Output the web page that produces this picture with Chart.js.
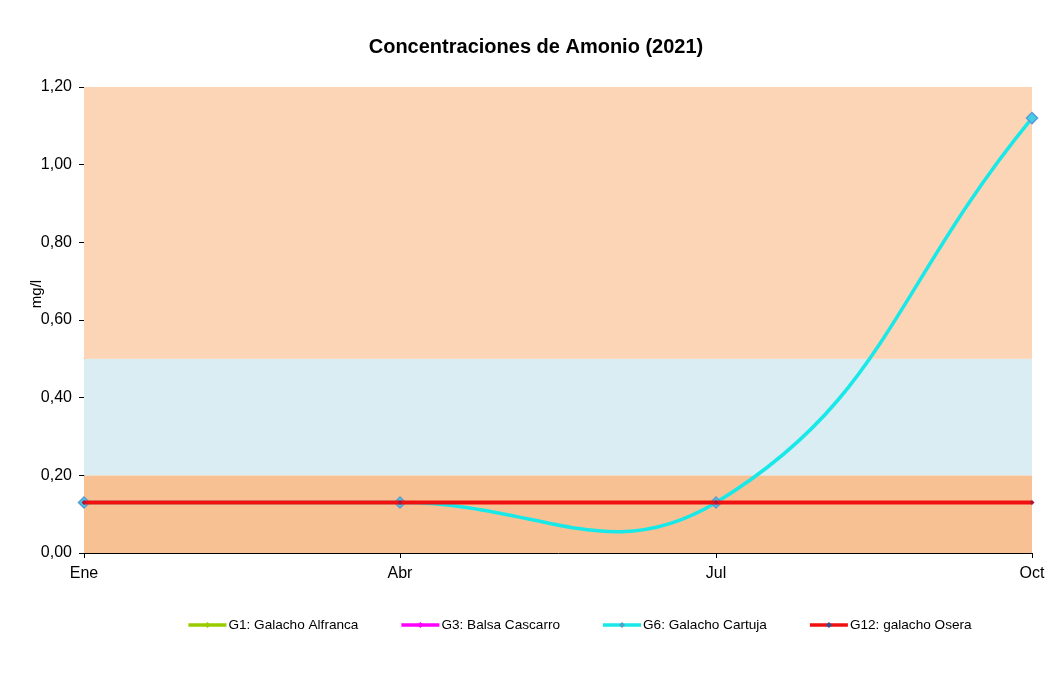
<!DOCTYPE html>
<html>
<head>
<meta charset="utf-8">
<script src="https://cdn.jsdelivr.net/npm/chart.js@4/dist/chart.umd.min.js"></script>
<style>
	body { margin: 0; background: #fff; }
	#wrap { width: 1061px; height: 677px; position: relative; }
</style>
</head>
<body>
<div id="wrap"><canvas id="chart"></canvas></div>
<script>
const months = ["Ene", "Abr", "Jul", "Oct"];
const g1 = [null, null, null, null];
const g3 = [null, null, null, null];
const g6 = [0.13, 0.13, 0.13, 1.12];
const g12 = [0.13, 0.13, 0.13, 0.13];
const yTicks = [0, 0.2, 0.4, 0.6, 0.8, 1.0, 1.2];
// quality bands (mg/l)
const bandEdges = [0, 0.2, 0.5, 1.2];
const bandColors = ["#F8C193", "#DAEDF2", "#FBD5B5"];

const FONT = "'Liberation Sans', Arial, sans-serif";

function fmt(v) {
	return v.toFixed(2).replace('.', ',');
}

const bands = {
	id: 'bands',
	beforeDatasetsDraw(chart) {
		const {ctx, chartArea, scales: {y}} = chart;
		ctx.save();
		for (let i = 0; i < bandColors.length; i++) {
			const top = y.getPixelForValue(bandEdges[i + 1]);
			const bottom = y.getPixelForValue(bandEdges[i]);
			ctx.fillStyle = bandColors[i];
			ctx.fillRect(chartArea.left, top, chartArea.right - chartArea.left, bottom - top);
		}
		ctx.restore();
	}
};

// y title sits over the tick labels, like the original
const yTitle = {
	id: 'yTitle',
	afterDraw(chart) {
		const {ctx, chartArea} = chart;
		ctx.save();
		ctx.translate(37, chartArea.top + 207);
		ctx.rotate(-Math.PI / 2);
		ctx.font = "15px " + FONT;
		ctx.fillStyle = "#000";
		ctx.textAlign = "center";
		ctx.textBaseline = "middle";
		ctx.fillText("mg/l", 0, 0);
		ctx.restore();
	}
};

// excel-like legend: short line with marker, then label
const excelLegend = {
	id: 'excelLegend',
	afterDraw(chart) {
		const {ctx} = chart;
		const sets = chart.data.datasets;
		const lineLen = 38, gapText = 2, gapItem = 43, y = 625;
		ctx.save();
		ctx.font = "13.6px " + FONT;
		const widths = sets.map((d) => lineLen + gapText + ctx.measureText(d.label).width);
		const total = widths.reduce((a, b) => a + b, 0) + gapItem * (sets.length - 1);
		let x = 580 - total / 2;
		sets.forEach((d, i) => {
			ctx.strokeStyle = d.borderColor;
			ctx.lineWidth = 3.5;
			ctx.beginPath();
			ctx.moveTo(x, y);
			ctx.lineTo(x + lineLen, y);
			ctx.stroke();
			ctx.fillStyle = d.legendMarker;
			ctx.beginPath();
			ctx.moveTo(x + lineLen / 2, y - 3);
			ctx.lineTo(x + lineLen / 2 + 3, y);
			ctx.lineTo(x + lineLen / 2, y + 3);
			ctx.lineTo(x + lineLen / 2 - 3, y);
			ctx.closePath();
			ctx.fill();
			ctx.fillStyle = "#000";
			ctx.textBaseline = "middle";
			ctx.fillText(d.label, x + lineLen + gapText, y);
			x += widths[i] + gapItem;
		});
		ctx.restore();
	}
};

new Chart(document.getElementById('chart'), {
	type: 'line',
	data: {
		labels: months,
		datasets: [
			{
				label: "G1: Galacho Alfranca",
				data: g1,
				borderColor: "#99CC00",
				legendMarker: "#99CC00",
				borderWidth: 3,
				pointRadius: 0,
				order: 3
			},
			{
				label: "G3: Balsa Cascarro",
				data: g3,
				borderColor: "#FF00FF",
				legendMarker: "#FF00FF",
				borderWidth: 3,
				pointRadius: 0,
				order: 2
			},
			{
				label: "G6: Galacho Cartuja",
				data: g6,
				borderColor: "#19E8E8",
				legendMarker: "#4FA3C8",
				borderWidth: 3.5,
				pointStyle: 'rectRot',
				pointRadius: 5.5,
				pointBackgroundColor: "#3FD0E6",
				pointBorderColor: "#5B9BD5",
				pointBorderWidth: 1.5,
				tension: 0.44,
				clip: 10,
				order: 1
			},
			{
				label: "G12: galacho Osera",
				data: g12,
				borderColor: "#F01010",
				legendMarker: "#2F4F8F",
				borderWidth: 4,
				pointStyle: 'rectRot',
				pointRadius: 2.5,
				pointBackgroundColor: "#B0143A",
				pointBorderWidth: 0,
				clip: 10,
				order: 0
			}
		]
	},
	options: {
		responsive: true,
		maintainAspectRatio: false,
		animation: false,
		layout: {
			padding: { left: 40, right: 29, top: 0, bottom: 84 }
		},
		elements: {
			line: { capBezierPoints: false }
		},
		plugins: {
			legend: { display: false },
			tooltip: { enabled: false },
			title: {
				display: true,
				text: "Concentraciones de Amonio (2021)",
				color: "#000",
				font: { family: FONT, size: 20, weight: 'bold' },
				padding: { top: 35, bottom: 28 }
			}
		},
		scales: {
			x: {
				offset: false,
				grid: { drawOnChartArea: false, drawTicks: true, tickLength: 5, color: "#000" },
				border: { color: "#000", width: 1 },
				ticks: { color: "#000", font: { family: FONT, size: 16 }, padding: 6, maxRotation: 0 },
				afterFit(scale) { scale.height = 40; }
			},
			y: {
				min: 0,
				max: 1.2,
				grid: { drawOnChartArea: false, drawTicks: true, tickLength: 5, color: "#000" },
				border: { color: "#000", width: 1 },
				ticks: {
					color: "#000",
					font: { family: FONT, size: 16 },
					padding: 7,
					callback: (v) => fmt(v)
				},
				afterBuildTicks(scale) { scale.ticks = yTicks.map((v) => ({ value: v })); },
				afterFit(scale) { scale.width = 44; }
			}
		}
	},
	plugins: [bands, yTitle, excelLegend]
});
</script>
</body>
</html>
